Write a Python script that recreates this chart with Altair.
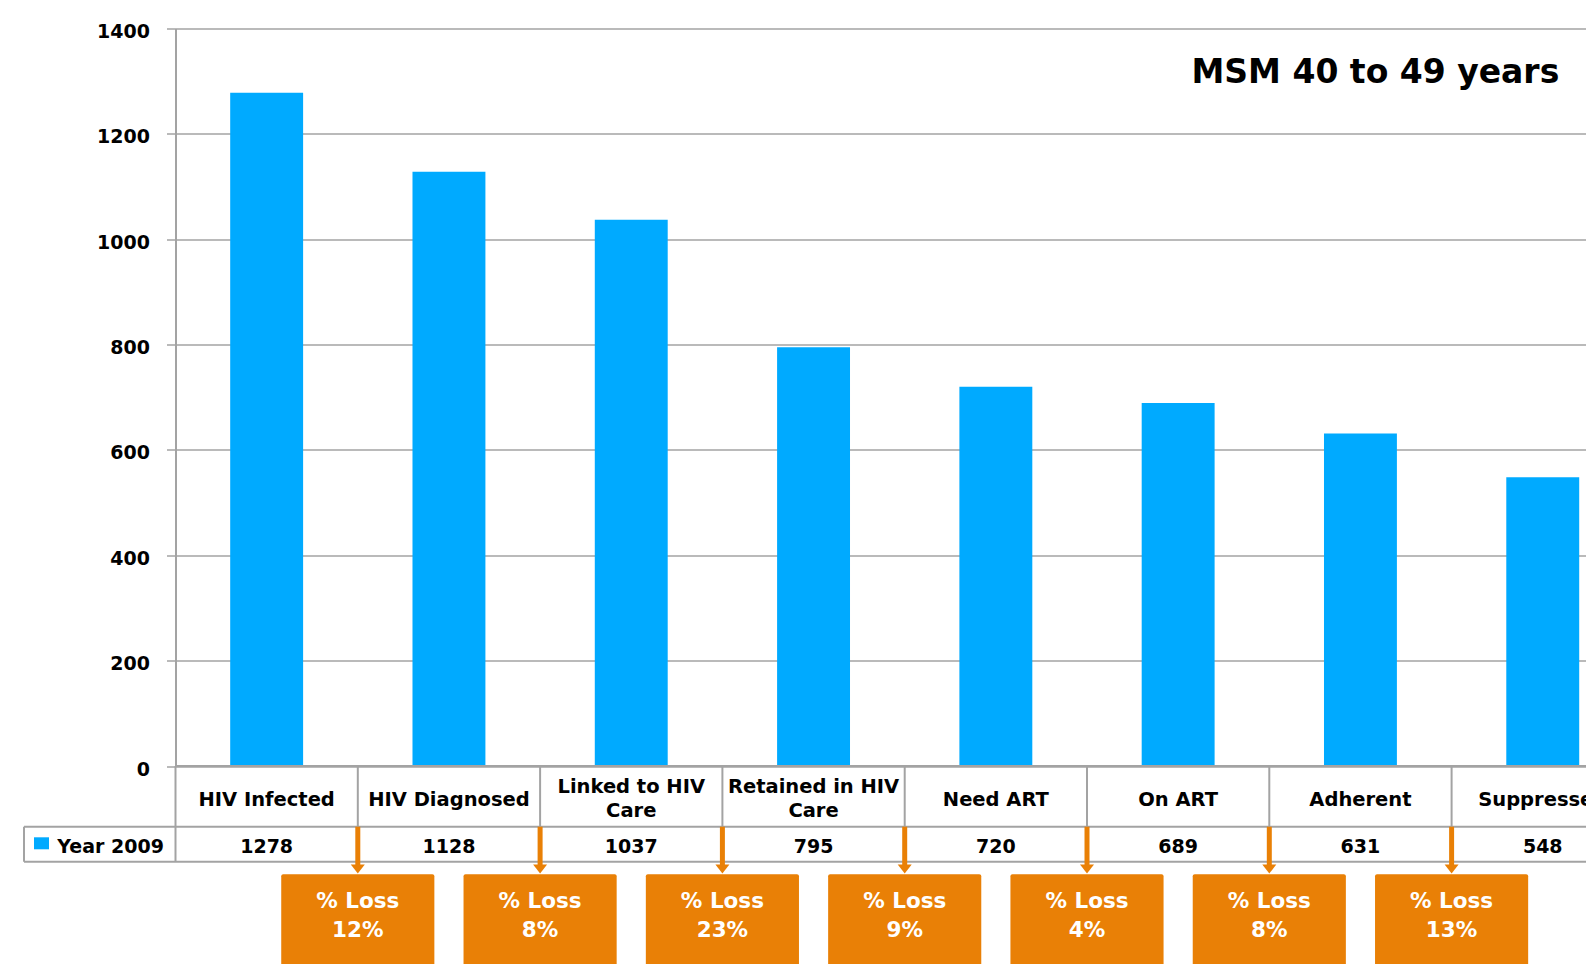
import altair as alt
import pandas as pd

# ---- data ----
categories = ["HIV Infected", "HIV Diagnosed", "Linked to HIV\nCare", "Retained in HIV\nCare",
              "Need ART", "On ART", "Adherent", "Suppressed"]
values_2009 = [1278, 1128, 1037, 795, 720, 689, 631, 548]
loss_pct = [12, 8, 23, 9, 4, 8, 13]
y_ticks = [0, 200, 400, 600, 800, 1000, 1200, 1400]
series_name = "Year 2009"
title_text = "MSM 40 to 49 years"
loss_word = "% Loss"

# ---- style ----
FONT = "DejaVu Sans"
BLUE = "#00AAFF"
ORANGE = "#E98006"
GRAY = "#A3A3A3"
STEP = 182.3
N = len(categories)
W = 1410
H = 737.5

bars_df = pd.DataFrame({"idx": list(range(N)), "category": categories, "value": values_2009})
loss_df = pd.DataFrame({"boundary": list(range(1, N)), "loss": loss_pct})
bounds_df = pd.DataFrame({"boundary": list(range(0, N + 1))})
one = pd.DataFrame({"k": [0]})

xscale = alt.Scale(domain=[0, N], range=[0, STEP * N])
yscale = alt.Scale(domain=[0, 1400])

bars = alt.Chart(bars_df).transform_calculate(
    x0="datum.idx + 0.3", x1="datum.idx + 0.7"
).mark_bar(color=BLUE).encode(
    x=alt.X("x0:Q", scale=xscale, axis=None),
    x2="x1:Q",
    y=alt.Y("value:Q", scale=yscale, axis=alt.Axis(
        values=y_ticks, format="d", title=None, grid=True, gridColor=GRAY, gridWidth=1.5,
        domainColor=GRAY, domainWidth=2, tickColor=GRAY, tickWidth=1.5, tickSize=9,
        labelFont=FONT, labelFontSize=19, labelFontWeight="bold", labelColor="black",
        labelPadding=17, labelOffset=3)),
    y2=alt.datum(0),
)

# table lines
top_rule = alt.Chart(one).mark_rule(color=GRAY, strokeWidth=2).encode(
    x=alt.value(0), x2=alt.value(W + 60), y=alt.value(H))
mid_rule = alt.Chart(one).mark_rule(color=GRAY, strokeWidth=2).encode(
    x=alt.value(-151.5), x2=alt.value(W + 60), y=alt.value(798.2))
bot_rule = alt.Chart(one).mark_rule(color=GRAY, strokeWidth=2).encode(
    x=alt.value(-151.5), x2=alt.value(W + 60), y=alt.value(833.2))
left_rule = alt.Chart(one).mark_rule(color=GRAY, strokeWidth=2).encode(
    x=alt.value(-151.5), y=alt.value(798.2), y2=alt.value(833.2))
vrules = alt.Chart(bounds_df).mark_rule(color=GRAY, strokeWidth=2).encode(
    x=alt.X("boundary:Q", scale=xscale, axis=None),
    y=alt.value(H), y2=alt.value(833.2))

header_style = dict(font=FONT, fontSize=19.5, fontWeight="bold", color="black",
                    align="center", baseline="middle", lineBreak="\n", lineHeight=24)
headers_one = alt.Chart(bars_df).transform_filter(
    "indexof(datum.category, '\\n') < 0"
).transform_calculate(xc="datum.idx + 0.5").mark_text(**header_style).encode(
    x=alt.X("xc:Q", scale=xscale, axis=None), y=alt.value(771), text="category:N")
headers_two = alt.Chart(bars_df).transform_filter(
    "indexof(datum.category, '\\n') >= 0"
).transform_calculate(xc="datum.idx + 0.5").mark_text(**header_style).encode(
    x=alt.X("xc:Q", scale=xscale, axis=None), y=alt.value(758.5), text="category:N")

vals = alt.Chart(bars_df).transform_calculate(xc="datum.idx + 0.5").mark_text(
    font=FONT, fontSize=19, fontWeight="bold", color="black", align="center",
    baseline="middle").encode(
    x=alt.X("xc:Q", scale=xscale, axis=None), y=alt.value(818.5),
    text=alt.Text("value:Q", format="d"))

legend_sw = alt.Chart(one).mark_rect(color=BLUE).encode(
    x=alt.value(-141.5), x2=alt.value(-126.5), y=alt.value(808.8), y2=alt.value(820.8))
legend_tx = alt.Chart(one).mark_text(
    font=FONT, fontSize=19, fontWeight="bold", color="black", align="left",
    baseline="middle").encode(x=alt.value(-118.2), y=alt.value(818.5), text=alt.value(series_name))

title = alt.Chart(one).mark_text(
    font=FONT, fontSize=33, fontWeight="bold", color="black", align="right",
    baseline="alphabetic").encode(x=alt.value(1383.8), y=alt.value(54.8), text=alt.value(title_text))

# loss arrows and boxes
arrow_line = alt.Chart(loss_df).mark_rule(color=ORANGE, strokeWidth=5).encode(
    x=alt.X("boundary:Q", scale=xscale, axis=None), y=alt.value(798.2), y2=alt.value(837.5))
arrow_head = alt.Chart(loss_df).mark_point(
    shape="M-1,-0.65L1,-0.65L0,0.65Z", size=196, filled=True, color=ORANGE,
    opacity=1, strokeWidth=0).encode(
    x=alt.X("boundary:Q", scale=xscale, axis=None), y=alt.value(840.5))
boxes = alt.Chart(loss_df).transform_calculate(
    b0="datum.boundary - 0.42", b1="datum.boundary + 0.42"
).mark_rect(color=ORANGE, cornerRadius=2).encode(
    x=alt.X("b0:Q", scale=xscale, axis=None), x2="b1:Q",
    y=alt.value(845.8), y2=alt.value(937.2))
box_t1 = alt.Chart(loss_df).mark_text(
    font=FONT, fontSize=21.5, fontWeight="bold", color="white", align="center",
    baseline="middle").encode(
    x=alt.X("boundary:Q", scale=xscale, axis=None), y=alt.value(873.8), text=alt.value(loss_word))
box_t2 = alt.Chart(loss_df).transform_calculate(lab="datum.loss + '%'").mark_text(
    font=FONT, fontSize=21.5, fontWeight="bold", color="white", align="center",
    baseline="middle").encode(
    x=alt.X("boundary:Q", scale=xscale, axis=None), y=alt.value(902.7), text="lab:N")

chart = alt.layer(
    bars, top_rule, vrules, mid_rule, bot_rule, left_rule, headers_one, headers_two, vals,
    legend_sw, legend_tx, title, arrow_line, arrow_head, boxes, box_t1, box_t2
).properties(
    width=W, height=H,
    padding={"left": 167.5, "top": 20.5, "right": 0, "bottom": 198},
    autosize=alt.AutoSizeParams(type="none"),
    background="white",
).configure_view(stroke=None)

chart.save("out.html", embed_options={"renderer": "svg", "actions": False})
